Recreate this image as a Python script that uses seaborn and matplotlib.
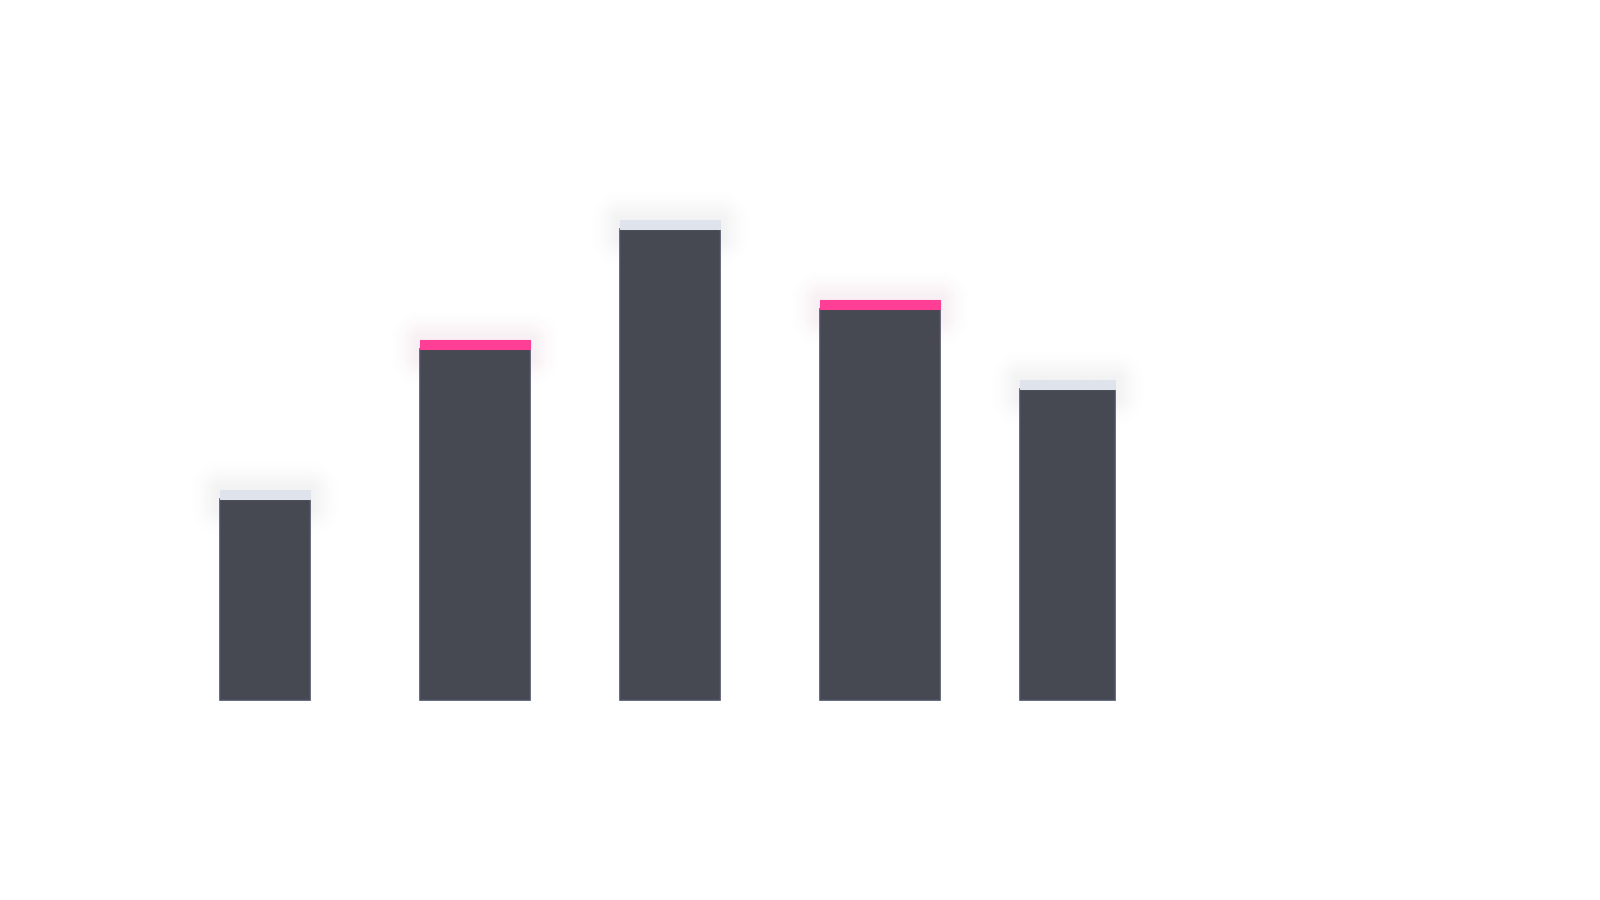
import numpy as np
import pandas as pd
import matplotlib
matplotlib.use("Agg")
import matplotlib.pyplot as plt
import matplotlib.colors as mcolors
import seaborn as sns

# ---- data ----
categories = ["A", "B", "C", "D", "E"]
values = [21, 36, 48, 40, 32]              # top of the cap
bar_widths = [0.45, 0.55, 0.50, 0.60, 0.475]
highlight = [False, True, False, True, False]

# ---- style ----
BODY = "#464852"
EDGE = "#4d5166"
CAP_LIGHT = "#dfe3ec"
CAP_PINK = "#ff3f96"
CAP_THICK = 0.9

sns.set_theme(style="white")
plt.rcParams["font.family"] = ["DejaVu Sans"]

fig = plt.figure(figsize=(16, 9), dpi=100)
ax = fig.add_axes([0, 0, 1, 1])

df = pd.DataFrame({"cat": categories, "val": values})
df["body"] = df["val"] - CAP_THICK
df["cap"] = CAP_THICK

# bodies first, caps stacked on top
sns.barplot(data=df, x="cat", y="body", color=BODY, saturation=1,
            width=0.5, ax=ax, zorder=4, linewidth=1.2, edgecolor=EDGE)
n_b = len(ax.patches)
sns.barplot(data=df, x="cat", y="cap", color=CAP_LIGHT, saturation=1,
            width=0.5, ax=ax, zorder=5, linewidth=0.8)

patches = list(ax.patches)
bodies = patches[:n_b]
caps = patches[n_b:]
for i, (b, c) in enumerate(zip(bodies, caps)):
    for p in (c, b):
        p.set_x(i - 0.5)
        p.set_width(bar_widths[i])
    c.set_y(df["body"].iloc[i] + 0.03)
    c.set_height(CAP_THICK - 0.06)
    cc = CAP_PINK if highlight[i] else CAP_LIGHT
    c.set_facecolor(cc)
    c.set_edgecolor(cc)
    b.set_facecolor(BODY)
    b.set_edgecolor(EDGE)

# soft glow around the caps (10 px per unit vertically, 200 px per category)
px_x = 1 / 200.0
px_y = 0.1
sig = 17.0
for i in range(len(categories)):
    left = i - 0.5
    right = left + bar_widths[i]
    top = values[i]
    bot = values[i] - CAP_THICK - 8 * px_y
    ext = 55
    x0, x1 = left - ext * px_x, right + ext * px_x
    y0, y1 = bot - ext * px_y, top + ext * px_y
    nx, ny = 240, 160
    xs = np.linspace(x0, x1, nx)
    ys = np.linspace(y1, y0, ny)
    X, Y = np.meshgrid(xs, ys)
    dx = np.maximum(np.maximum(left - X, X - right), 0) / px_x
    dy = np.maximum(np.maximum(bot - Y, Y - top), 0) / px_y
    d = np.sqrt(dx ** 2 + dy ** 2)
    a = 0.075 * np.exp(-(d / sig) ** 2)
    col = mcolors.to_rgb("#a03468" if highlight[i] else "#5c5e6c")
    img = np.zeros((ny, nx, 4))
    img[..., 0], img[..., 1], img[..., 2] = col
    img[..., 3] = a
    ax.imshow(img, extent=(x0, x1, y0, y1), aspect="auto", zorder=2,
              interpolation="bilinear")

ax.set_xlim(-1.6, 6.4)
ax.set_ylim(-20, 70)
ax.axis("off")

fig.savefig("out.png", dpi=100, facecolor="white")
